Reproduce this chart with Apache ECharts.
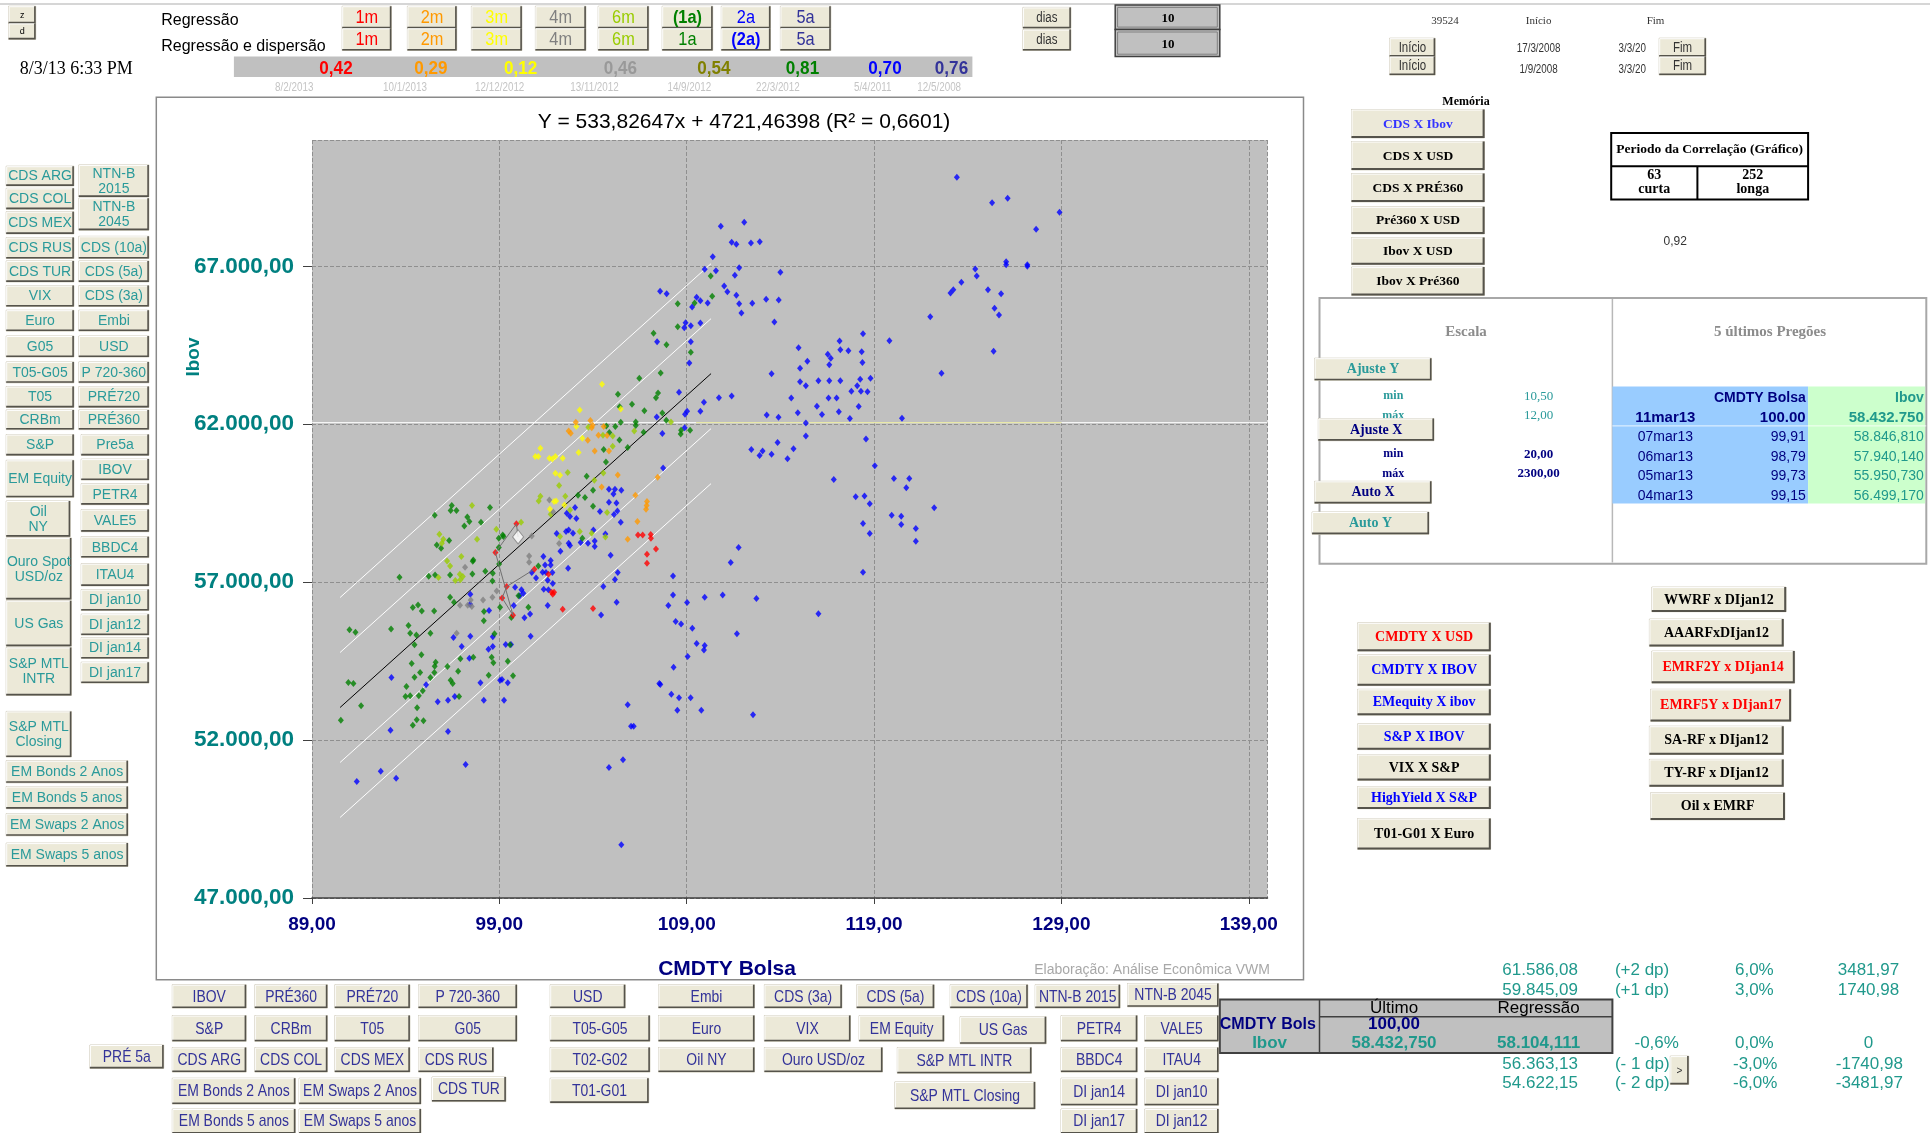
<!DOCTYPE html>
<html><head><meta charset="utf-8">
<script src="https://cdn.jsdelivr.net/npm/echarts@6/dist/echarts.min.js"></script>
<style>html,body{margin:0;padding:0;background:#fff;}#main{width:1930px;height:1133px;}</style>
</head><body><div id="main"></div>
<script>
// ---------------- DATA ----------------
const periodLabels = ['1m','2m','3m','4m','6m','1a','2a','5a'];
const corrValues = ['0,42','0,29','0,12','0,46','0,54','0,81','0,70','0,76'];
const corrDates = ['8/2/2013','10/1/2013','12/12/2012','13/11/2012','14/9/2012','22/3/2012','5/4/2011','12/5/2008'];
const regEquation = 'Y = 533,82647x + 4721,46398 (R² = 0,6601)';
const lastDates = ['11mar13','07mar13','06mar13','05mar13','04mar13'];
const lastCmdty = [100.00, 99.91, 98.79, 99.73, 99.15];
const lastIbov = [58432.750, 58846.810, 57940.140, 55950.730, 56499.170];
const olderPath = [[99.39,56861],[100.87,57410]];
const regMid = [[90.5,53033],[110.3,63603]];
const regP1 = [[90.5,54774],[110.3,65344]];
const regP2 = [[90.5,56515],[110.3,67085]];
const regM1 = [[90.5,51292],[110.3,61862]];
const regM2 = [[90.5,49551],[110.3,60121]];
const refLine = [[89,62050],[140,62050]];
const refLineYellow = [[109.5,62050],[129,62050]];
const xTicks = {min:89, max:140, interval:10};
const yTicks = {min:47000, max:71000, interval:5000};

const red1m = [[99.39,56861],[100.87,57410],[101.62,57252],[101.79,56682],[101.92,56682],[101.85,56619],[102.38,56144],[104.0,56165],[106.4,58496],[106.65,58496],[107.08,58507],[107.09,58391],[107.36,58053],[106.88,57884],[106.88,57600]];
const orange2m = [[103.08,62062],[103.86,62115],[103.98,61967],[103.93,61893],[104.57,61925],[102.7,61788],[102.81,61714],[104.29,61651],[104.75,61640],[103.72,61492],[104.09,61155],[104.85,61155],[107.45,60321],[105.32,60395],[104.46,60015],[106.26,59752],[106.88,59551],[106.86,59425],[106.83,59309],[106.37,58918],[105.85,58359]];
const yellow3m = [[104.48,63265],[103.29,62453],[105.48,62484],[103.11,61925],[103.43,61556],[101.19,61239],[100.92,60976],[101.08,60976],[101.67,60923],[101.99,60976],[101.83,60902],[102.38,60923],[103.23,61102],[101.99,60448],[102.24,60385],[101.92,59551],[102.03,59572],[102.47,59446],[101.7,59319]];
const grey4m = [[101.67,59604],[101.87,59224],[100.73,58465],[102.19,58222],[100.59,57832],[100.59,57631],[97.17,57473],[98.86,56724],[98.63,56523],[98.13,56439],[97.47,56439],[96.9,56270],[97.31,56270],[97.53,56228],[96.72,55384]];
const yg6m = [[108.16,62073],[103.75,61904],[106.2,61788],[104.53,61651],[105.05,61630],[105.05,61303],[102.65,60469],[104.07,60227],[104.55,60458],[102.19,60058],[101.19,59720],[101.1,59572],[102.52,59720],[101.74,59150],[104.75,59203],[102.77,59288],[97.54,59425],[100.16,58897],[98.84,58676],[103.29,58602],[103.93,58549],[104.66,58433],[102.24,58443],[95.8,58517],[96.01,58359],[95.93,58233],[97.81,58359],[96.97,57811],[96.21,57673],[96.37,57515],[96.89,57252],[97.05,57178],[96.65,57051],[96.92,57073],[95.75,57146]];
const green1a = [[110.28,66694],[110.36,66051],[109.42,65840],[108.52,65818],[108.52,65090],[107.23,64879],[107.92,64517],[109.22,64283],
[106.47,63455],[107.61,63624],[105.33,62948],[107.47,62991],[107.36,62843],[106.08,62632],[105.42,62558],[106.74,62431],[107.7,62358],[107.91,62126],[105.48,62062],[106.28,62073],[104.71,61946],[105.19,61925],[106.28,61957],[109.18,61809],[108.7,61809],[108.68,61693],[106.7,61746],[104.87,61735],[105.41,61503],[105.85,61260],[104.57,61197],[104.69,60807],[103.66,60353],[104.0,59910],[103.2,59752],[103.57,59678],[104.0,59404],[96.46,59425],[96.4,59267],[96.71,59267],[98.5,59362],[95.55,59119],[97.29,59066],[97.4,58918],[98.02,58897],[97.13,58781],[103.43,58391],[99.18,58496],[98.97,58391],[99.22,58443],[96.32,58317],[95.66,58180],[95.89,58074],[98.97,58095],[97.61,57705],[101.08,57515],[98.99,57579],[97.58,57663],[97.56,57262],[98.25,57346],[98.65,57283],[98.63,57040],[95.23,57188],[95.57,57230],[96.37,57230],[93.67,57157],[100.02,56566],[96.37,56523],[96.58,56365],[94.38,56197],[94.66,56281],[94.86,56091],[95.52,56091],[98.18,56070],[99.04,56207],[100.55,56207],[99.64,55880],[98.17,55775],[91.0,55490],[91.32,55416],[93.22,55521],[94.15,55627],[94.24,55384],[94.57,55331],[95.32,55384],[98.74,55363],[94.47,55015],[99.57,55015],[94.84,54699],[97.61,54625],[98.59,54625],
[90.54,52630],[90.94,53823],[91.21,53791],[91.62,53084],[94.32,54424],[94.04,53696],[94.47,53991],[94.77,54139],[93.99,53379],[94.24,53401],[94.7,53401],[94.91,53559],[95.32,53981],[95.53,54139],[95.6,54466],[95.55,54340],[94.61,53021],[94.59,52641],[94.95,52609],[94.38,52472],[96.23,54329],[96.8,54181],[96.4,53896],[96.51,53791],[96.85,53379],[98.43,54055],[99.73,54034],[99.45,54498],[98.68,54445],[96.92,54572]];
const blue2a = [[123.42,69817],[125.3,69015],[126.13,69152],[128.9,68709],[127.65,68171],[110.82,68266],[112.07,68393],[111.4,67760],[111.65,67696],[112.43,67738],[112.9,67780],[110.39,67306],[109.96,66905],[110.56,66863],[111.8,66958],[111.57,66715],[114.0,66810],[111.0,66378],[111.17,66198],[111.65,66082],[107.58,66209],[107.93,66135],[109.53,66019],[109.73,65913],[110.12,65840],[109.29,65713],[111.8,65818],[112.5,65829],[113.24,65955],[113.91,65934],[111.92,65523],[113.68,65238],[108.94,65217],[109.22,65122],[109.73,65206],[108.87,65059],[124.4,66916],[126.05,67148],[126.05,67053],[127.18,67053],[127.18,67000],[124.48,66694],[123.66,66494],[123.23,66262],[123.08,66156],[125.08,66262],[125.78,66135],[125.43,65671],[125.67,65460],[122.0,65407],[118.41,64869],[119.82,64647],[117.16,64637],[107.42,64616],[109.22,64616],
[125.38,64315],[122.6,63614],[114.97,64421],[115.05,63774],[115.44,63997],[116.53,64220],[116.69,64092],[116.61,63880],[117.2,64358],[117.63,64326],[118.34,64294],[118.38,63954],[115.05,63349],[115.36,63221],[116.03,63381],[116.61,63381],[117.2,63381],[118.26,63423],[118.81,63455],[117.79,63041],[118.1,63221],[118.3,63041],[118.65,63030],[114.58,62828],[115.95,62573],[116.57,62828],[117.0,62828],[118.18,62563],[117.12,62393],[116.22,62308],[117.71,62181],[114.93,62361],[120.49,62191],[115.36,62042],[115.36,61628],[114.7,61225],[114.38,60906],[118.57,61533],[119.04,60683],[116.85,60248],[120.06,60280],[120.88,60280],[120.72,59993],[118.02,59706],[118.49,59727],[118.77,59483],[122.21,59356],[119.94,59122],[120.45,59090],[120.45,58825],[121.23,58697],[121.23,58294],[118.41,58857],[118.77,58538],[118.41,57317],[116.03,56000],
[109.14,63940],[113.53,63602],[108.59,63012],[109.92,62695],[110.72,62843],[111.4,62896],[109.02,62410],[108.91,62315],[109.73,62410],[107.4,62231],[113.27,62294],[113.9,62220],[108.89,61893],[107.7,61704],[112.45,61197],[112.89,61007],[113.05,61155],[113.53,61049],[113.85,61419],[107.74,60617],[104.85,59941],[105.17,59941],[105.51,59910],[105.09,59794],[104.85,59530],[105.25,59509],[103.04,59362],[104.37,59235],[105.3,59256],[105.12,59140],[102.6,59182],[102.77,59077],[103.11,59013],[105.48,58897],[102.06,58538],[102.56,58602],[102.7,58655],[102.93,58549],[104.02,58655],[104.66,58528],[103.73,58233],[104.09,58306],[104.09,58127],[103.34,58254],[102.7,58233],[102.77,58159],[102.26,57979],[104.94,57853],[111.77,58095],[111.35,57621],[101.35,57811],[101.74,57684],[101.74,57547],[101.44,57547],[100.73,57304],[101.31,57315],[101.49,57304],[101.83,57304],[102.67,57441],[100.96,57135],[101.85,56956],[101.37,56777],[101.62,56756],[101.58,57062],[99.84,56840],[100.18,56756],[100.28,56650],[100.09,56566],[97.44,56302],[97.45,56619],[98.45,56102],[99.77,56260],[100.64,55996],[100.34,55870],[101.58,56260],[104.43,55964],[104.55,56861],[105.17,57083],[105.32,57304],[105.26,56365],[108.27,57199],[108.27,56597],[108.02,56260],[109.02,56355],[109.96,56523],[110.92,56597],[112.72,56481],[108.41,55753],[108.7,55679],[109.3,55542],[111.68,55363],[109.53,55057],[109.96,54993],[109.92,54856],[109.05,54646],[96.55,55247],[97.45,55289],[98.65,55268],[100.67,55289],[96.99,54962],[98.65,54962],[98.42,54878],[99.34,55025],[99.62,55025],[97.4,54593],
[93.24,53981],[93.19,52314],[92.67,51016],[91.39,50689],[93.49,50795],[95.09,53749],[95.71,53211],[96.26,53264],[96.62,53379],[96.26,52272],[97.2,51227],[97.99,53812],[98.17,53264],[99.04,53896],[99.14,53917],[99.45,53812],[99.25,53264],[108.18,53453],[108.59,53337],[109.21,53337],[108.5,52947],[109.78,52947],[107.54,53791],[107.59,53759],[108.3,54308],[112.54,52799],[105.85,53116],[106.03,52441],[106.17,52441],[105.6,51375],[104.85,51132],[105.51,48685]];

// ---------------- LAYOUT HELPERS ----------------
const S = 1930/1568;
const p = v => Math.round(v*S*10)/10;
const G = [];
const SANS = "'Liberation Sans', Arial, sans-serif";
const SERIF = "'Liberation Serif', 'Times New Roman', serif";
const TEAL = '#2a9a9a', NAVY = '#333399', NUMTEAL = '#20998c';
const NARROW_SCALE = 0.82;

function rect(x1,y1,x2,y2,fill,stroke,lw,z){
  G.push({type:'rect',silent:true,z:z===undefined?1:z,shape:{x:p(x1),y:p(y1),width:p(x2)-p(x1),height:p(y2)-p(y1)},style:{fill:fill||'none',stroke:stroke||'none',lineWidth:lw||1}});
}
function seg(x1,y1,x2,y2,stroke,lw,z){
  G.push({type:'line',silent:true,z:z===undefined?2:z,shape:{x1:p(x1),y1:p(y1),x2:p(x2),y2:p(y2)},style:{stroke:stroke,lineWidth:lw||1}});
}
function txt(x,y,t,color,font,align,z,lh,sx){
  G.push({type:'text',silent:true,z:z===undefined?3:z,x:p(x),y:p(y),scaleX:sx||1,
    style:{text:t,fill:color,font:font,align:align||'center',verticalAlign:'middle',textAlign:align||'center',textVerticalAlign:'middle',lineHeight:lh}});
}
function btn(b,color,font,lh,z,shadow,sx){
  const t=b[0],X1=p(b[1]),Y1=p(b[2]),X2=p(b[3]),Y2=p(b[4]);
  z = z||4;
  G.push({type:'rect',silent:true,z:z,shape:{x:X1,y:Y1,width:X2-X1,height:Y2-Y1},style:{fill:'#ece9d8',stroke:'#cfcbbb',lineWidth:1}});
  G.push({type:'polyline',silent:true,z:z+1,shape:{points:[[X1+0.5,Y2-1],[X1+0.5,Y1+0.5],[X2-1,Y1+0.5]]},style:{stroke:'#ffffff',lineWidth:1,fill:null}});
  G.push({type:'polyline',silent:true,z:z+1,shape:{points:[[X1,Y2-0.8],[X2-0.8,Y2-0.8],[X2-0.8,Y1]]},style:{stroke:'#55534b',lineWidth:shadow||1.6,fill:null}});
  G.push({type:'text',silent:true,z:z+2,x:(X1+X2)/2,y:(Y1+Y2)/2+0.5,scaleX:sx||1,style:{text:t,fill:color,font:font,align:'center',verticalAlign:'middle',textAlign:'center',textVerticalAlign:'middle',lineHeight:lh}});
}

// page top line
G.push({type:'line',silent:true,z:1,shape:{x1:0,y1:4,x2:1930,y2:4},style:{stroke:'#c8c8c8',lineWidth:1.5}});

// z / d
btn(['z',7,5,29,19],'#000','9px '+SANS);
btn(['d',7,19,29,32],'#000','9px '+SANS);

// Regressão rows
txt(131,17,'Regressão','#000','16px '+SANS,'left');
txt(131,38,'Regressão e dispersão','#000','16px '+SANS,'left');
const periodColors = ['#ff0000','#ff9900','#ffff00','#808080','#99cc00','#008000','#0000ff','#333399'];
const periodX = [[278,318],[331,371],[383,424],[435,476],[486,527],[538,579],[586,626],[634,675]];
periodLabels.forEach((l,i)=>{
  const top = (i===5)?'('+l+')':l;
  const bot = (i===6)?'('+l+')':l;
  btn([top,periodX[i][0],5,periodX[i][1],23],periodColors[i],(i===5?'bold ':'')+'19px '+SANS,null,4,1.6,0.86);
  btn([bot,periodX[i][0],23,periodX[i][1],41],periodColors[i],(i===6?'bold ':'')+'19px '+SANS,null,4,1.6,0.86);
});
// correlation bar
rect(190,46,790,62.5,'#c0c0c0','none',0,1);
const corrColors = ['#ff0000','#ff9900','#ffff00','#999999','#808000','#008000','#0000ff','#333399'];
const corrX = [273,350,423,504,580,652,719,773];
corrValues.forEach((v,i)=>txt(corrX[i],55.5,v,corrColors[i],'bold 19px '+SANS,'center',3,null,0.9));
const dateX = [239,329,406,483,560,632,709,763];
corrDates.forEach((d,i)=>txt(dateX[i],71,d,'#c4c4c4','12px '+SANS,'center',3,null,NARROW_SCALE));
txt(16,56,'8/3/13 6:33 PM','#000','18px '+SERIF,'left');

// dias / 10
btn(['dias',831,6,870,23],'#333','14px '+SANS,null,4,1.6,NARROW_SCALE);
btn(['dias',831,24,870,41],'#333','14px '+SANS,null,4,1.6,NARROW_SCALE);
rect(906,4,991,24,'#c0c0c0','#404040',1.5,1);
rect(906,24,991,46,'#c0c0c0','#404040',1.5,1);
rect(908,6,989,22,'none','#808080',1,1);
rect(908,26,989,44,'none','#808080',1,1);
txt(949,15,'10','#000','bold 13px '+SERIF);
txt(949,36,'10','#000','bold 13px '+SERIF);

// Início / Fim
txt(1174,17,'39524','#333','11px '+SERIF);
txt(1250,17,'Início','#333','11px '+SERIF);
txt(1345,17,'Fim','#333','11px '+SERIF);
txt(1250,39.5,'17/3/2008','#333','12px '+SANS,'center',3,null,NARROW_SCALE);
txt(1250,56.5,'1/9/2008','#333','12px '+SANS,'center',3,null,NARROW_SCALE);
txt(1315,39.5,'3/3/20','#333','12px '+SANS,'left',3,null,NARROW_SCALE);
txt(1315,56.5,'3/3/20','#333','12px '+SANS,'left',3,null,NARROW_SCALE);
btn(['Início',1129,31,1166,46],'#333','14px '+SANS,null,4,1.6,NARROW_SCALE);
btn(['Início',1129,46,1166,61],'#333','14px '+SANS,null,4,1.6,NARROW_SCALE);
btn(['Fim',1348,31,1386,46],'#333','14px '+SANS,null,4,1.6,NARROW_SCALE);
btn(['Fim',1348,46,1386,61],'#333','14px '+SANS,null,4,1.6,NARROW_SCALE);

// left panel buttons
const leftBtns = [
 ['CDS ARG',5,135,60,151],['CDS COL',5,153,60,170],['CDS MEX',5,172,60,190],['CDS RUS',5,193,60,210],['CDS TUR',5,212,60,229],['VIX',5,232,60,249],['Euro',5,252,60,269],['G05',5,273,60,290],['T05-G05',5,294,60,311],['T05',5,314,60,331],['CRBm',5,333,60,349],['S&P',5,353,60,370],['EM Equity',5,374,60,404],['Oil\nNY',5,407,57,436],['Ouro Spot\nUSD/oz',5,437,58,487],['US Gas',5,488,58,525],['S&P MTL\nINTR',5,526,58,565],['S&P MTL\nClosing',5,578,58,615],['EM Bonds 2 Anos',5,618,104,636],['EM Bonds 5 anos',5,639,104,657],['EM Swaps 2 Anos',5,661,104,679],['EM Swaps 5 anos',5,685,104,704],
 ['NTN-B\n2015',64,134,121,160],['NTN-B\n2045',64,161,121,187],['CDS (10a)',64,192,121,210],['CDS (5a)',64,212,121,229],['CDS (3a)',64,232,121,249],['Embi',64,252,121,269],['USD',64,273,121,290],['P 720-360',64,294,121,311],['PRÉ720',64,314,121,331],['PRÉ360',64,333,121,349],['Pre5a',66,353,121,370],['IBOV',66,373,121,390],['PETR4',66,393,121,410],['VALE5',66,414,121,432],['BBDC4',66,436,121,453],['ITAU4',66,458,121,476],['DI jan10',66,479,121,496],['DI jan12',66,499,121,516],['DI jan14',66,518,121,535],['DI jan17',66,538,121,555]
];
leftBtns.forEach(b=>btn(b,TEAL,'14px '+SANS,15));

// bottom buttons
const bottomBtns = [
 ['IBOV',140,800,200,819],['PRÉ360',207,800,266,819],['PRÉ720',272,800,333,819],['P 720-360',340,800,420,819],['USD',447,800,508,819],['Embi',535,800,613,819],['CDS (3a)',621,800,684,819],['CDS (5a)',696,800,759,819],['CDS (10a)',772,800,835,819],['NTN-B 2015',841,800,910,819],['NTN-B 2045',916,799,990,818],
 ['S&P',140,825,200,846],['CRBm',207,825,266,846],['T05',272,825,333,846],['G05',340,825,420,846],['T05-G05',447,825,528,846],['Euro',535,825,613,846],['VIX',621,825,691,846],['EM Equity',698,825,767,846],['US Gas',780,826,850,848],['PETR4',862,825,924,846],['VALE5',930,825,990,846],
 ['PRÉ 5a',73,849,133,868],['CDS ARG',140,851,200,871],['CDS COL',207,851,266,871],['CDS MEX',272,851,333,871],['CDS RUS',340,851,401,871],['T02-G02',447,851,528,871],['Oil NY',535,851,613,871],['Ouro USD/oz',621,851,717,871],['S&P MTL INTR',729,851,838,872],['BBDC4',862,851,924,871],['ITAU4',930,851,990,871],
 ['EM Bonds 2 Anos',140,876,240,897],['EM Swaps 2 Anos',243,876,342,897],['CDS TUR',351,875,411,895],['T01-G01',447,876,527,896],['S&P MTL Closing',727,879,841,901],['DI jan14',862,876,924,898],['DI jan10',930,876,990,898],
 ['EM Bonds 5 anos',140,901,240,921],['EM Swaps 5 anos',243,901,342,921],['DI jan17',862,901,924,921],['DI jan12',930,901,990,921]
];
bottomBtns.forEach(b=>btn(b,NAVY,'17px '+SANS,null,4,1.6,NARROW_SCALE));

// chart frame
rect(127,79,1059,796,'#ffffff','#8a8a8a',1.5,-1);

// Memória block
txt(1191,83,'Memória','#000','bold 12px '+SERIF);
const memBtns = [['CDS X Ibov',89,112,'#3333ff'],['CDS X USD',115,138,'#000'],['CDS X PRÉ360',141,164,'#000'],['Pré360 X USD',168,190,'#000'],['Ibov X USD',193,215,'#000'],['Ibov X Pré360',217,240,'#000']];
memBtns.forEach(m=>btn([m[0],1098,m[1],1206,m[2]],m[3],'bold 13.5px '+SERIF,null,4,2));
rect(1309,108,1469,162,'#fff','#000',2,2);
seg(1309,135,1469,135,'#000',2,3);
seg(1379,135,1379,162,'#000',2,3);
txt(1389,121.5,'Periodo da Correlação (Gráfico)','#000','bold 13.5px '+SERIF);
txt(1344,148.5,'63\ncurta','#000','bold 14px '+SERIF,'center',3,14);
txt(1424,148.5,'252\nlonga','#000','bold 14px '+SERIF,'center',3,14);
txt(1361,196,'0,92','#333','12px '+SANS);

// Escala / 5 últimos box
rect(1072,242,1565,458,'#fff','#a8a8a8',2,1);
seg(1310,243,1310,457,'#b8b8b8',1.5,2);
txt(1191,270,'Escala','#8c8c8c','bold 15px '+SERIF);
txt(1438,270,'5 últimos Pregões','#8c8c8c','bold 15px '+SERIF);
txt(1132,322,'min',TEAL,'bold 12px '+SERIF);
txt(1250,322,'10,50',TEAL,'13px '+SERIF);
txt(1132,338,'máx',TEAL,'bold 12px '+SERIF);
txt(1250,338,'12,00',TEAL,'13px '+SERIF);
txt(1132,369,'min','#000080','bold 12px '+SERIF);
txt(1250,369,'20,00','#000080','bold 13px '+SERIF);
txt(1132,385,'máx','#000080','bold 12px '+SERIF);
txt(1250,385,'2300,00','#000080','bold 13px '+SERIF);
btn(['Ajuste Y',1068,291,1163,309],TEAL,'bold 14px '+SERIF,null,6);
btn(['Ajuste X',1071,340,1165,358],'#000080','bold 14px '+SERIF,null,6);
btn(['Auto X',1068,391,1163,409],'#000080','bold 14px '+SERIF,null,6);
btn(['Auto Y',1066,416,1161,434],TEAL,'bold 14px '+SERIF,null,6);
rect(1310,314,1469,409,'#99ccff','none',0,2);
rect(1469,314,1564,409,'#ccffcc','none',0,2);
txt(1467,323.5,'CMDTY Bolsa','#000080','bold 14px '+SANS,'right');
txt(1563,323.5,'Ibov',NUMTEAL,'bold 14px '+SANS,'right');
const rowY = [339.5,355,371,387,403];
lastDates.forEach((d,i)=>{
  const b = i===0;
  const c = b ? lastCmdty[i].toFixed(2) : lastCmdty[i].toFixed(2).replace('.',',');
  let iv;
  if (b) { iv = lastIbov[i].toFixed(3).replace('.', ',').replace(/^(\d+)(\d{3}),/, '$1.$2.'); }
  else { iv = lastIbov[i].toFixed(3).replace('.', ',').replace(/^(\d+)(\d{3}),/, '$1.$2,'); }
  txt(1353,rowY[i],d,'#000080',(b?'bold 15px ':'14px ')+SANS);
  txt(1467,rowY[i],c,'#000080',(b?'bold 15px ':'14px ')+SANS,'right');
  txt(1563,rowY[i],iv,NUMTEAL,(b?'bold 15px ':'14px ')+SANS,'right');
});
seg(1310,346,1565,346,'rgba(255,255,255,0.8)',1,3);

// lower right serif buttons
const pairL = [['CMDTY X USD',506,529,'#ff0000'],['CMDTY X IBOV',532,557,'#0000ff'],['EMequity X ibov',560,581,'#0000ff'],['S&P X IBOV',588,609,'#0000ff'],['VIX X S&P',613,634,'#000'],['HighYield X S&P',639,657,'#0000ff'],['T01-G01 X Euro',665,690,'#000']];
pairL.forEach(m=>btn([m[0],1103,m[1],1211,m[2]],m[3],'bold 14px '+SERIF,null,4,2));
const pairR = [['WWRF x DIjan12',1342,477,1451,497,'#000'],['AAARFxDIjan12',1340,503,1449,525,'#000'],['EMRF2Y x DIjan14',1342,529,1458,555,'#ff0000'],['EMRF5Y x DIjan17',1341,560,1455,586,'#ff0000'],['SA-RF x DIjan12',1340,590,1449,613,'#000'],['TY-RF x DIjan12',1340,617,1449,639,'#000'],['Oil x EMRF',1341,644,1450,666,'#000']];
pairR.forEach(m=>btn([m[0],m[1],m[2],m[3],m[4]],m[5],'bold 14px '+SERIF,null,4,2));

// bottom-right band table
const bandRows = [[788.5,'61.586,08','(+2 dp)','6,0%','3481,97'],[805,'59.845,09','(+1 dp)','3,0%','1740,98'],[864.5,'56.363,13','(- 1 dp)','-3,0%','-1740,98'],[880,'54.622,15','(- 2 dp)','-6,0%','-3481,97']];
bandRows.forEach(r=>{
  txt(1282,r[0],r[1],NUMTEAL,'17px '+SANS,'right');
  txt(1312,r[0],r[2],NUMTEAL,'17px '+SANS,'left');
  txt(r[3].charAt(0)==='-'?1444:1441,r[0],r[3],NUMTEAL,'17px '+SANS,'right');
  txt(r[4].charAt(0)==='-'?1546:1543,r[0],r[4],NUMTEAL,'17px '+SANS,'right');
});
txt(1364,847.5,'-0,6%',NUMTEAL,'17px '+SANS,'right');
txt(1441,847.5,'0,0%',NUMTEAL,'17px '+SANS,'right');
txt(1518,847.5,'0',NUMTEAL,'17px '+SANS);
btn(['>',1357,858,1372,881],'#333','10px '+SANS,null,8);
rect(991,812,1310,855.5,'#c0c0c0','#404040',2,3);
seg(1072,812,1072,855.5,'#404040',1.5,4);
seg(1072,826,1310,826,'#404040',1.5,4);
txt(1132.5,819,'Último','#000','17px '+SANS,'center',5);
txt(1250,819,'Regressão','#000','17px '+SANS,'center',5);
txt(991,832.5,'CMDTY Bols','#000080','bold 16px '+SANS,'left',5);
txt(1132.5,832.5,'100,00','#000080','bold 17px '+SANS,'center',5);
txt(1031.5,847.5,'Ibov',NUMTEAL,'bold 17px '+SANS,'center',5);
txt(1132.5,847.5,'58.432,750',NUMTEAL,'bold 17px '+SANS,'center',5);
txt(1250,847.5,'58.104,111',NUMTEAL,'bold 17px '+SANS,'center',5);

// axis names & credit
G.push({type:'text',silent:true,z:5,x:194,y:357,rotation:Math.PI/2,style:{text:'Ibov',fill:'#008080',font:'bold 19px '+SANS,align:'center',verticalAlign:'middle',textAlign:'center',textVerticalAlign:'middle'}});
G.push({type:'text',silent:true,z:5,x:727,y:969,style:{text:'CMDTY Bolsa',fill:'#000080',font:'bold 21px '+SANS,align:'center',verticalAlign:'middle',textAlign:'center',textVerticalAlign:'middle'}});
G.push({type:'text',silent:true,z:5,x:1270,y:970,style:{text:'Elaboração: Análise Econômica VWM',fill:'#a8a8a8',font:'14px '+SANS,align:'right',verticalAlign:'middle',textAlign:'right',textVerticalAlign:'middle'}});

// ---------------- CHART ----------------
const chart = echarts.init(document.getElementById('main'), null, {renderer:'canvas'});
const fmtX = v => v.toFixed(2).replace('.', ',');
const fmtY = v => Math.round(v).toString().replace(/\B(?=(\d{3})+(?!\d))/g,'.') + ',00';
function lineSeries(data,color,z){ return {type:'line',data:data,symbol:'none',silent:true,lineStyle:{color:color,width:1},z:z,animation:false}; }
function dots(data,color,z){ return {type:'scatter',data:data,symbol:'diamond',symbolSize:[6,7],itemStyle:{color:color},silent:true,z:z,animation:false}; }
const redAll = lastCmdty.slice(1).map((c,i)=>[c,lastIbov[i+1]]).concat(red1m);
const pathPts = lastCmdty.map((c,i)=>[c,lastIbov[i]]).concat(olderPath);

chart.setOption({
  backgroundColor:'#ffffff',
  animation:false,
  title:{text:regEquation,left:744,top:112,textAlign:'center',padding:0,textStyle:{fontSize:21,fontWeight:'normal',color:'#000',fontFamily:SANS}},
  grid:{left:312,top:140,width:955.5,height:758,show:true,backgroundColor:'#c0c0c0',borderWidth:0,containLabel:false},
  xAxis:{type:'value',min:xTicks.min,max:xTicks.max,interval:xTicks.interval,
    axisLine:{show:true,onZero:false,lineStyle:{color:'#404040',width:1.5}},
    axisTick:{show:true,length:6,lineStyle:{color:'#404040'}},
    axisLabel:{formatter:fmtX,color:'#000080',fontWeight:'bold',fontSize:19,fontFamily:SANS,margin:17,showMaxLabel:false},
    splitLine:{show:true,lineStyle:{color:'#8f8f8f',type:'dashed',width:1}}},
  yAxis:{type:'value',min:yTicks.min,max:yTicks.max,interval:yTicks.interval,
    axisLine:{show:false},
    axisTick:{show:true,length:9,lineStyle:{color:'#404040'}},
    axisLabel:{formatter:fmtY,color:'#008080',fontWeight:'bold',fontSize:22.5,fontFamily:SANS,margin:18,showMaxLabel:false},
    splitLine:{show:true,lineStyle:{color:'#8f8f8f',type:'dashed',width:1}}},
  graphic:{elements:G},
  series:[
    lineSeries(refLine,'#ffffff',2),
    lineSeries(refLineYellow,'#e6e69a',2),
    lineSeries(regP2,'#ffffff',2),
    lineSeries(regP1,'#ffffff',2),
    lineSeries(regM1,'#ffffff',2),
    lineSeries(regM2,'#ffffff',2),
    lineSeries(regMid,'#000000',2),
    dots(blue2a,'#0000ff',3),
    dots(green1a,'#008000',3),
    dots(yg6m,'#99cc00',3),
    dots(grey4m,'#808080',3),
    dots(yellow3m,'#ffff00',3),
    dots(orange2m,'#ff9900',3),
    dots(redAll,'#ff0000',3),
    lineSeries(pathPts,'#707070',4),
    {type:'scatter',data:[[lastCmdty[0],lastIbov[0]]],symbol:'diamond',symbolSize:[11,14],silent:true,z:5,
      itemStyle:{color:'#ffffff',borderColor:'#808080',borderWidth:1}}
  ]
});
</script>
</body></html>
